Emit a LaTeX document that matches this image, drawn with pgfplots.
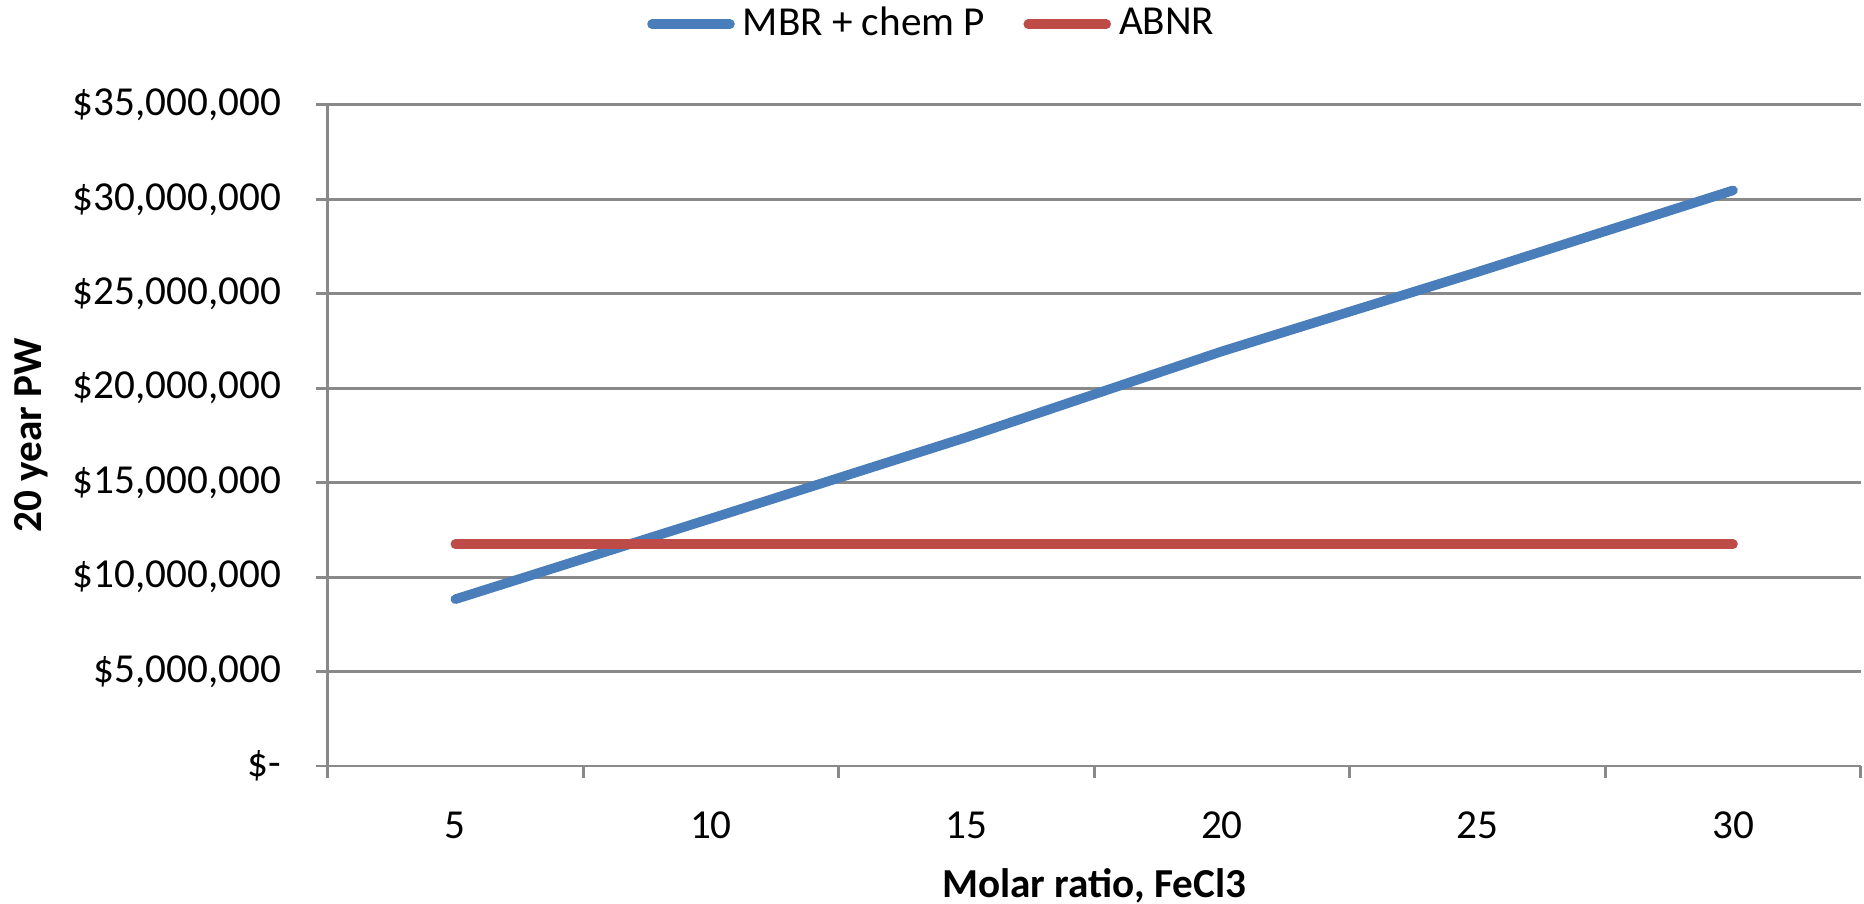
\documentclass[border=0pt]{standalone}
\usepackage{pgfplots}
\pgfplotsset{compat=1.18}
\usepackage{fontspec}
\setmainfont{Carlito}
\definecolor{mbr}{HTML}{4A7EBB}
\definecolor{abnr}{HTML}{BE4B48}
\definecolor{gridgray}{HTML}{898989}
\begin{document}
\begin{tikzpicture}
\begin{axis}[
  name=ax,
  scale only axis,
  width=383.3pt, height=165.3pt,
  xmin=0, xmax=6, ymin=0, ymax=35,
  axis x line*=bottom, axis y line*=left,
  axis line style={gridgray, line width=0.7pt, -},
  xtick={0,1,...,6},
  xticklabels={5,10,15,20,25,30},
  x tick label as interval,
  ytick={0,5,...,35},
  yticklabels={{\$-},{\$5,000,000},{\$10,000,000},{\$15,000,000},{\$20,000,000},{\$25,000,000},{\$30,000,000},{\$35,000,000}},
  tick align=outside,
  major tick length=3pt,
  tick style={gridgray, line width=0.7pt},
  ymajorgrids,
  grid style={gridgray, line width=0.7pt},
  font=\fontsize{10.3}{12}\selectfont,
  yticklabel style={xshift=-5pt},
  xticklabel style={yshift=-5pt},
  xlabel={\bfseries Molar ratio, FeCl3},
  ylabel={\bfseries 20 year PW},
  xlabel style={at={(rel axis cs:0.5,0)}, anchor=center, yshift=-30pt},
  ylabel style={at={(rel axis cs:0,0.5)}, anchor=center, yshift=74pt},
  legend columns=2,
  legend style={draw=none, at={(0.396,1.122)}, anchor=center, fill=none,
    /tikz/every even column/.append style={column sep=7.6pt},
    font=\fontsize{10.3}{12}\selectfont},
  legend image code/.code={\draw[#1, line cap=round] (0pt,0pt) -- (19.5pt,0pt);},
  clip=false,
]
\addplot[mbr, line width=2.4pt, line cap=round, line join=round] coordinates {
  (0.5,8.83) (1.5,13.1) (2.5,17.4) (3.5,21.95) (4.5,26.15) (5.5,30.47)
};
\addlegendentry{MBR + chem P}
\addplot[abnr, line width=2.4pt, line cap=round] coordinates {
  (0.5,11.74) (1.5,11.74) (2.5,11.74) (3.5,11.74) (4.5,11.74) (5.5,11.74)
};
\addlegendentry{ABNR}
\end{axis}
\pgfresetboundingbox
\path[use as bounding box] ([xshift=-81.9pt,yshift=-34.25pt]ax.south west) rectangle ++(466pt,225.75pt);
\end{tikzpicture}
\end{document}
